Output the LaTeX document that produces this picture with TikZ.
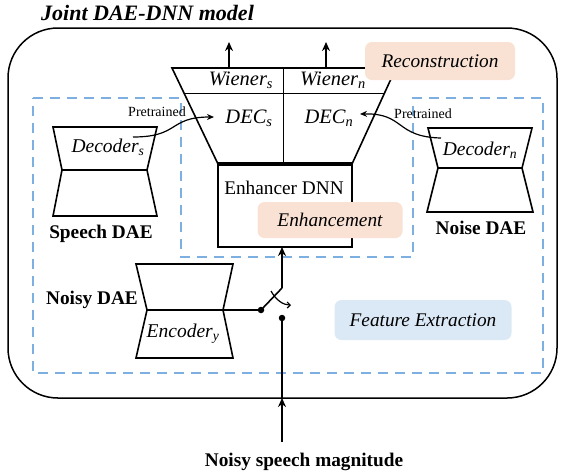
\documentclass[tikz,border=0pt]{standalone}
\usepackage{fontspec}
\setmainfont{Liberation Serif}
\usetikzlibrary{arrows.meta,calc}
\definecolor{dashblue}{RGB}{125,175,225}
\definecolor{peach}{RGB}{249,226,212}
\definecolor{paleblue}{RGB}{219,232,245}
\begin{document}
\begin{tikzpicture}[x=1pt,y=-1pt,line join=miter,
  shp/.style={draw,line width=1.6pt},
  thickline/.style={line width=2.4pt},
  thin/.style={line width=0.9pt},
  lbl/.style={font=\fontsize{19.3}{21}\selectfont\bfseries,inner sep=0pt},
  mtxt/.style={font=\fontsize{19.5}{21}\selectfont\itshape,inner sep=0pt},
  wtxt/.style={font=\fontsize{20.5}{22}\selectfont\itshape,inner sep=0pt},
  rtxt/.style={font=\fontsize{19.3}{21}\selectfont,inner sep=0pt},
  small/.style={font=\fontsize{14}{16}\selectfont,inner sep=0pt},
  tag/.style={rounded corners=7pt,inner sep=0pt,font=\fontsize{19.3}{21}\selectfont\itshape},
  arr/.style={line width=1.6pt,-{Stealth[length=9pt,width=8pt]}},
  dot/.style={circle,fill,inner sep=0pt,minimum size=6.5pt}]
\useasboundingbox (0,0) rectangle (561,475);

% title
\node[font=\fontsize{22}{24}\selectfont\bfseries\itshape,anchor=west,inner sep=0pt] (title) at (41,13) {Joint DAE-DNN model};

% outer rounded box
\draw[line width=1.5pt,rounded corners=50pt] (8,28) rectangle (557,398);

% dashed feature-extraction region
\draw[dashblue,line width=1.8pt,dash pattern=on 10pt off 7pt]
  (33,98) -- (181,98) -- (181,257) -- (413,257) -- (413,98) -- (543,98) -- (543,373) -- (33,373) -- cycle;

% big decoder trapezoid
\coordinate (TL) at (172,68);
\coordinate (TR) at (396,68);
\coordinate (BR) at (352,164);
\coordinate (BL) at (218,164);
\draw[shp] (TL) -- (TR) -- (BR) -- (BL) -- cycle;
\draw[thin] ($(TL)!0.26!(BL)$) -- ($(TR)!0.26!(BR)$);
\draw[thin] (283,68) -- (283,164);

% enhancer box
\draw[shp] (BL) rectangle (352,247);
\draw[line width=3.2pt] (BL) -- (BR);
\node[rtxt] (enh) at (284,188) {Enhancer DNN};

% output arrows
\coordinate (os) at (229,68);
\coordinate (os2) at (229,42);
\coordinate (on) at (326,68);
\coordinate (on2) at (326,42);
\draw[arr] (os) -- (os2);
\draw[arr] (on) -- (on2);

% texts in decoder
\node[wtxt] (wiens) at (241,80) {Wiener\textsubscript{s}};
\node[wtxt] (wienn) at (333,80) {Wiener\textsubscript{n}};
\node[wtxt] (decs) at (249,118) {DEC\textsubscript{s}};
\node[wtxt] (decn) at (329,118) {DEC\textsubscript{n}};

% tags
\node[tag,fill=peach,minimum width=150pt,minimum height=38pt] (rec) at (440,61) {Reconstruction};
\node[tag,fill=peach,minimum width=145pt,minimum height=36pt] (enht) at (330,220) {Enhancement};
\node[tag,fill=paleblue,minimum width=177pt,minimum height=40pt] (fe) at (423,320) {Feature Extraction};

% speech DAE
\draw[shp] (53,127) -- (157,127) -- (147,170) -- (62,170) -- cycle;
\draw[shp] (62,170) -- (147,170) -- (157,216) -- (53,216) -- cycle;
\draw[thickline] (62,170) -- (147,170);
\node[mtxt] (decods) at (108,147) {Decoder\textsubscript{s}};
\node[lbl] (sdae) at (101,234) {Speech DAE};

% noise DAE
\draw[shp] (428,128) -- (532,128) -- (522,168) -- (438,168) -- cycle;
\draw[shp] (438,168) -- (522,168) -- (533,212) -- (427,212) -- cycle;
\draw[thickline] (438,168) -- (522,168);
\node[mtxt] (decodn) at (480,150) {Decoder\textsubscript{n}};
\node[lbl] (ndae) at (481,228) {Noise DAE};

% noisy DAE
\draw[shp] (136,264) -- (233,264) -- (223,310) -- (147,310) -- cycle;
\draw[shp] (147,310) -- (223,310) -- (233,358) -- (136,358) -- cycle;
\draw[thickline] (147,310) -- (223,310);
\node[mtxt] (ency) at (183,334) {Encoder\textsubscript{y}};
\node[lbl] (nydae) at (92,300) {Noisy DAE};

% pretrained curved arrows
\node[small] (pre1) at (157,112) {Pretrained};
\node[small] (pre2) at (423,114) {Pretrained};
\coordinate (ps) at (133,137);
\coordinate (pe) at (214,117);
\coordinate (qs) at (441,138);
\coordinate (qe) at (360,114);
\draw[line width=1.2pt,-{Stealth[length=7pt,width=6pt]}] (ps) .. controls (180,137) and (168,117) .. (pe);
\draw[line width=1.2pt,-{Stealth[length=7pt,width=6pt]}] (qs) .. controls (395,137) and (405,113) .. (qe);

% switch
\node[dot] (d1) at (261,310) {};
\node[dot] (d2) at (282,318) {};
\coordinate (sw) at (282,288);
\coordinate (inb) at (282,247);
\draw[line width=1.6pt] (223,310) -- (d1);
\draw[line width=1.6pt] (d1.center) -- (sw);
\draw[arr] (sw) -- (inb);
\draw[line width=1.2pt,-{Straight Barb[length=3pt,width=6pt]}] (271,291) .. controls (276,300) and (283,305) .. (291,305);

% input
\coordinate (in0) at (282,442);
\coordinate (in1) at (282,398);
\draw[arr] (in0) -- (in1);
\draw[line width=1.6pt] (in1) -- (d2.center);
\node[lbl] (nsm) at (304,462) {Noisy speech magnitude};
\end{tikzpicture}
\end{document}
